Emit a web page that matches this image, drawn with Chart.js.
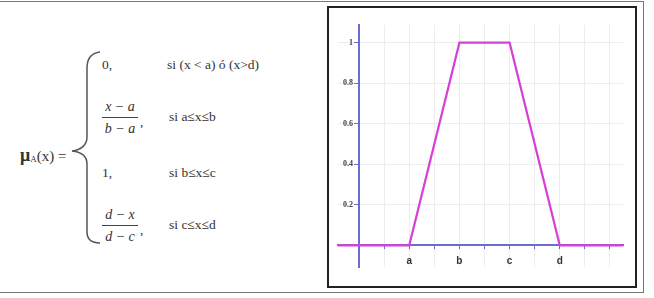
<!DOCTYPE html>
<html>
<head>
<meta charset="utf-8">
<script src="https://cdn.jsdelivr.net/npm/chart.js@4.4.1/dist/chart.umd.min.js"></script>
<style>
  html, body { margin: 0; padding: 0; background: #fff; }
  #page { position: relative; width: 654px; height: 298px; overflow: hidden; font-family: "Liberation Serif", serif; color: #333; }
  #frame { position: absolute; left: -2px; top: 1px; width: 644px; height: 290px; border: 1.5px solid #777; }
  #box { position: absolute; left: 327px; top: 6px; width: 306px; height: 278px; border: 2px solid #222; }
  #chartWrap { position: absolute; left: 328px; top: 15px; width: 305px; height: 262px; }
  .t { position: absolute; font-size: 13.5px; white-space: nowrap; line-height: 1; }
  .frac { position: absolute; width: 36px; text-align: center; font-style: italic; font-size: 14px; line-height: 1; }
  .num { border-bottom: 1px solid #444; padding-bottom: 3px; }
  .den { padding-top: 4px; }
  .mu { font-weight: bold; font-size: 18px; }
  sub { font-size: 9px; vertical-align: -1px; }
</style>
</head>
<body>
<div id="page">
  <div id="frame"></div>

  <div class="t" style="left:20px; top:146px; font-size:15px;"><span class="mu">μ</span><sub>A</sub>(x) =</div>
  <svg style="position:absolute; left:0; top:0;" width="330" height="298">
    <path d="M100,52 C92,53 87,58 87,68 L87,137 C87,145 81,150 72,151 C81,152 87,156 87,164 L87,232 C87,240 92,243 100,243"
          fill="none" stroke="#555" stroke-width="1.5"/>
  </svg>

  <div class="t" style="left:102px; top:58px;">0,</div>
  <div class="t" style="left:167px; top:58px;">si (x &lt; a) ó (x&gt;d)</div>

  <div class="frac" style="left:102px; top:100px;"><div class="num">x − a</div><div class="den">b − a</div></div>
  <div class="t" style="left:140px; top:115px;">,</div>
  <div class="t" style="left:169px; top:110px;">si a≤x≤b</div>

  <div class="t" style="left:102px; top:166px;">1,</div>
  <div class="t" style="left:169px; top:166px;">si b≤x≤c</div>

  <div class="frac" style="left:102px; top:208px;"><div class="num">d − x</div><div class="den">d − c</div></div>
  <div class="t" style="left:140px; top:223px;">,</div>
  <div class="t" style="left:169px; top:218px;">si c≤x≤d</div>

  <div id="box"></div>
  <div id="chartWrap"><canvas id="trapChart" width="305" height="262"></canvas></div>
</div>

<script>
// función de pertenencia trapezoidal
const xPoints = [-0.84, 2, 4, 6, 8, 10.52];
const yPoints = [0, 0, 1, 1, 0, 0];
const xTickValues = [2, 4, 6, 8];
const xTickLabels = ["a", "b", "c", "d"];
const yTickValues = [0.2, 0.4, 0.6, 0.8, 1];
const yTickLabels = ["0.2", "0.4", "0.6", "0.8", "1"];

const axisColor = "#6b6bd0";
const gridColor = "#ececec";

const ctx = document.getElementById("trapChart").getContext("2d");
new Chart(ctx, {
  type: "scatter",
  data: {
    datasets: [{
      data: xPoints.map((x, i) => ({ x: x, y: yPoints[i] })),
      showLine: true,
      borderColor: "#d640d6",
      borderWidth: 2.2,
      pointRadius: 0,
      tension: 0,
      clip: false
    }]
  },
  options: {
    responsive: false,
    animation: false,
    layout: { padding: 10 },
    plugins: { legend: { display: false }, tooltip: { enabled: false } },
    scales: {
      x: {
        type: "linear",
        min: -0.84,
        max: 10.52,
        position: { y: 0 },
        border: { color: axisColor, width: 2 },
        grid: { color: gridColor, tickColor: axisColor, tickLength: 3 },
        ticks: {
          stepSize: 1,
          includeBounds: false,
          autoSkip: false,
          maxRotation: 0,
          padding: 7,
          color: "#333",
          font: { family: "Liberation Sans", size: 10, weight: "bold" },
          callback: (v) => {
            const i = xTickValues.indexOf(v);
            return i >= 0 ? xTickLabels[i] : "";
          }
        }
      },
      y: {
        type: "linear",
        min: -0.107,
        max: 1.087,
        position: { x: 0 },
        border: { color: axisColor, width: 2 },
        grid: { color: gridColor, tickColor: axisColor, tickLength: 4 },
        ticks: {
          stepSize: 0.2,
          includeBounds: false,
          autoSkip: false,
          color: "#444",
          font: { family: "Liberation Serif", size: 8, weight: "bold" },
          // el eje está en x=0, así que se deja un hueco a la derecha de la etiqueta
          callback: (v) => {
            const i = yTickValues.findIndex((t) => Math.abs(t - v) < 1e-6);
            return i >= 0 ? yTickLabels[i] + "   " : "";
          }
        }
      }
    }
  }
});
</script>
</body>
</html>
